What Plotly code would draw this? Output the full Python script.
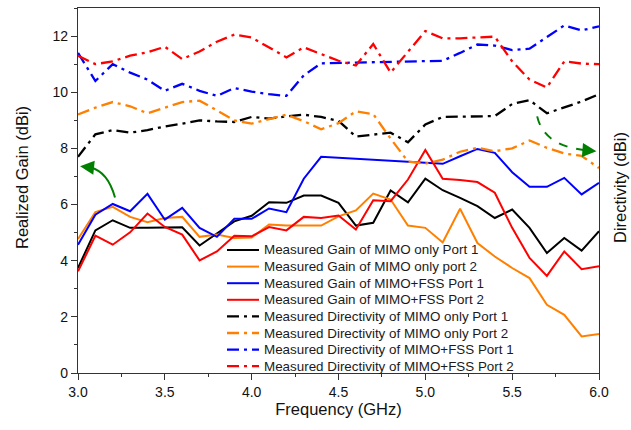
import plotly.graph_objects as go

freq = [3.0, 3.1, 3.2, 3.3, 3.4, 3.5, 3.6, 3.7, 3.8, 3.9, 4.0, 4.1, 4.2, 4.3, 4.4, 4.5,
        4.6, 4.7, 4.8, 4.9, 5.0, 5.1, 5.2, 5.3, 5.4, 5.5, 5.6, 5.7, 5.8, 5.9, 6.0]

gain_mimo_p1 = [3.74, 5.08, 5.44, 5.17, 5.17, 5.17, 5.19, 4.54, 4.96, 5.40, 5.60, 6.08, 6.06, 6.32, 6.32, 6.06,
                5.25, 5.35, 6.50, 6.08, 6.92, 6.51, 6.24, 5.94, 5.52, 5.82, 5.17, 4.27, 4.81, 4.36, 5.05]
gain_mimo_p2 = [4.77, 5.73, 5.92, 5.56, 5.37, 5.52, 5.56, 4.85, 4.93, 4.81, 4.83, 5.29, 5.25, 5.25, 5.25, 5.58,
                5.79, 6.39, 6.18, 5.25, 5.17, 4.65, 5.85, 4.63, 4.15, 3.74, 3.38, 2.43, 2.07, 1.30, 1.39]
gain_fss_p1 = [4.57, 5.64, 6.02, 5.76, 6.38, 5.46, 5.88, 5.17, 4.85, 5.49, 5.49, 5.86, 5.73, 6.92, 7.70, None,
               None, None, None, None, None, 7.45, 7.72, 7.98, 7.84, 7.15, 6.63, 6.63, 6.95, 6.36, 6.77]
gain_fss_p2 = [3.62, 4.89, 4.57, 5.01, 5.68, 5.20, 4.93, 4.01, 4.33, 4.89, 4.87, 5.20, 5.08, 5.56, 5.52, 5.61,
               5.11, 6.15, 6.12, 6.89, 7.94, 6.92, 6.87, 6.80, 6.42, 5.17, 4.10, 3.46, 4.33, 3.70, 3.80]
dir_mimo_p1 = [7.70, 8.50, 8.65, 8.56, 8.65, 8.78, 8.88, 9.00, 8.96, 8.94, 9.12, 9.06, 9.14, 9.20, 9.12, 8.98,
               8.42, 8.50, 8.56, 8.22, 8.85, 9.12, 9.13, 9.13, 9.15, 9.58, 9.72, 9.25, 9.45, 9.67, 9.93]
dir_mimo_p2 = [9.21, 9.45, 9.65, 9.50, 9.25, 9.45, 9.65, 9.70, 9.35, 9.00, 8.88, 9.05, 9.20, 8.97, 8.68, 8.90,
               9.32, 9.22, 8.35, 7.53, 7.46, 7.60, 7.88, 8.02, 7.90, 8.00, 8.28, 8.02, 7.82, 7.73, 7.30]
dir_fss_p1 = [11.40, 10.40, 11.00, 10.70, 10.45, 10.05, 10.30, 10.05, 9.87, 10.15, 10.02, 9.93, 9.87, 10.60, 11.03, 11.04,
              11.05, 11.06, 11.08, 11.10, 11.11, 11.12, 11.40, 11.70, 11.66, 11.50, 11.55, 11.95, 12.38, 12.20, 12.35]
dir_fss_p2 = [11.30, 11.00, 11.10, 11.30, 11.42, 11.62, 11.18, 11.45, 11.80, 12.05, 11.95, 11.60, 11.24, 11.60, 11.35, 11.12,
              10.95, 11.72, 10.70, 11.45, 12.18, 11.92, 11.92, 11.95, 11.98, 11.10, 10.45, 10.17, 11.10, 11.02, 11.00]

series_names = [
    "Measured Gain of MIMO only Port 1",
    "Measured Gain of MIMO only port 2",
    "Measured Gain of MIMO+FSS Port 1",
    "Measured Gain of MIMO+FSS Port 2",
    "Measured Directivity of MIMO only Port 1",
    "Measured Directivity of MIMO only Port 2",
    "Measured Directivity of MIMO+FSS Port 1",
    "Measured Directivity of MIMO+FSS Port 2",
]
series_values = [gain_mimo_p1, gain_mimo_p2, gain_fss_p1, gain_fss_p2,
                 dir_mimo_p1, dir_mimo_p2, dir_fss_p1, dir_fss_p2]
series_colors = ["#000000", "#FF8000", "#0000FF", "#FF0000",
                 "#000000", "#FF8000", "#0000FF", "#FF0000"]
DASHDOT = "12px,5px,3px,5px"
series_dash = ["solid"] * 4 + [DASHDOT] * 4
series_width = [2.0] * 4 + [2.3] * 4

FONT = "Liberation Sans, Arial, sans-serif"
W, H = 631, 430
ML, MR, MT, MB = 78, 32, 8, 57
PW, PH = W - ML - MR, H - MT - MB

fig = go.Figure()
for name, vals, col, dash, wd in zip(series_names, series_values, series_colors, series_dash, series_width):
    fig.add_trace(go.Scatter(x=freq, y=vals, mode="lines", name=name, connectgaps=True,
                             line=dict(color=col, dash=dash, width=wd), showlegend=False))

# custom compact legend (Plotly's built-in legend rows are taller than the original's)
shapes = []
annotations = []
for i, (name, col, dash, wd) in enumerate(zip(series_names, series_colors, series_dash, series_width)):
    ypx = 250 + i * 16.6
    yp = (H - MB - ypx) / PH
    shapes.append(dict(type="line", xref="paper", yref="paper",
                       x0=(227 - ML) / PW, x1=(259 - ML) / PW, y0=yp, y1=yp,
                       line=dict(color=col, dash=dash, width=wd)))
    annotations.append(dict(text=name, xref="paper", yref="paper", x=(262 - ML) / PW, y=yp,
                            xanchor="left", yanchor="middle", showarrow=False,
                            font=dict(family=FONT, size=13.4, color="#1a1a1a")))

GREEN = "#008000"
# curved arrows
shapes.append(dict(type="path", xref="x", yref="y", path="M 3.213,6.25 Q 3.172,7.18 3.07,7.32",
                   line=dict(color=GREEN, width=2)))
annotations.append(dict(x=3.012, y=7.36, ax=3.075, ay=7.32, xref="x", yref="y", axref="x", ayref="y",
                        text="", showarrow=True, arrowhead=2, arrowsize=1.4, arrowwidth=2,
                        arrowcolor=GREEN, standoff=0))
shapes.append(dict(type="path", xref="x", yref="y", path="M 5.644,9.14 Q 5.684,8.07 5.93,7.93",
                   line=dict(color=GREEN, width=2, dash="dash")))
annotations.append(dict(x=5.985, y=7.90, ax=5.925, ay=7.93, xref="x", yref="y", axref="x", ayref="y",
                        text="", showarrow=True, arrowhead=2, arrowsize=1.4, arrowwidth=2,
                        arrowcolor=GREEN, standoff=0))

# axis titles
annotations.append(dict(text="Realized Gain (dBi)", xref="paper", yref="paper",
                        x=(22 - ML) / PW, y=(H - MB - 178) / PH, textangle=-90,
                        xanchor="center", yanchor="middle", showarrow=False,
                        font=dict(family=FONT, size=16.5, color="#111")))
annotations.append(dict(text="Directivity (dBi)", xref="paper", yref="paper",
                        x=(620 - ML) / PW, y=(H - MB - 188) / PH, textangle=-90,
                        xanchor="center", yanchor="middle", showarrow=False,
                        font=dict(family=FONT, size=16.5, color="#111")))

axis_common = dict(showline=True, linecolor="#333", linewidth=1.3, mirror=True, showgrid=False,
                   zeroline=False, ticks="outside", ticklen=6, tickwidth=1, tickcolor="#333",
                   tickfont=dict(family=FONT, size=14, color="#111"))

fig.update_layout(
    width=W, height=H,
    margin=dict(l=ML, r=MR, t=MT, b=MB),
    paper_bgcolor="white", plot_bgcolor="white",
    showlegend=False,
    xaxis=dict(range=[3.0, 6.0], dtick=0.5, tick0=3.0, tickformat=".1f",
               minor=dict(dtick=0.25, ticks="outside", ticklen=3, tickcolor="#333"),
               title=dict(text="Frequency (GHz)", font=dict(family=FONT, size=16.5, color="#111"), standoff=4),
               **axis_common),
    yaxis=dict(range=[0, 13], dtick=2, tick0=0,
               minor=dict(dtick=1, ticks="outside", ticklen=3, tickcolor="#333"),
               **axis_common),
    shapes=shapes,
    annotations=annotations,
)

fig.write_html("out.html")
